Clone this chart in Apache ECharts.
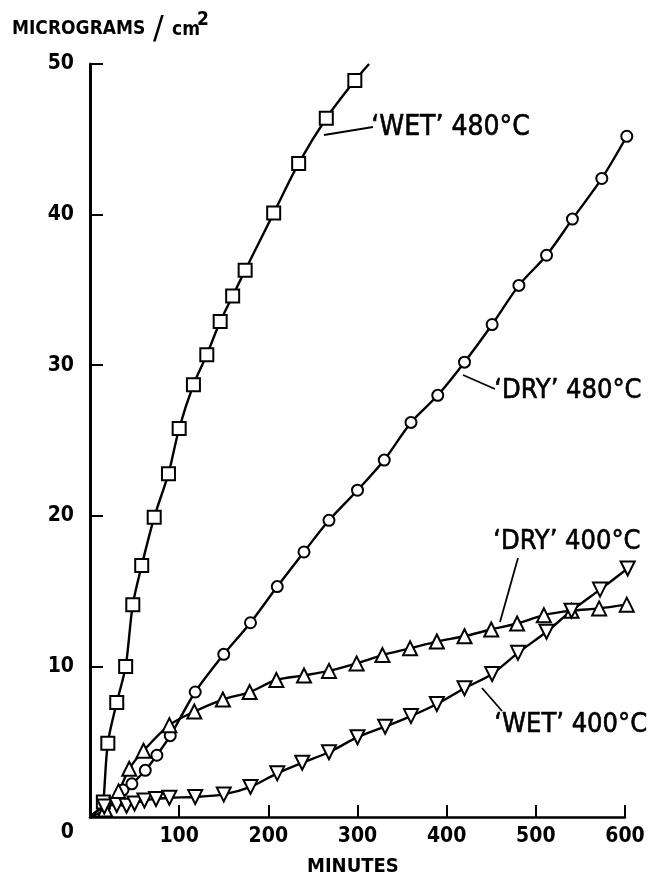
<!DOCTYPE html>
<html><head><meta charset="utf-8">
<script src="https://cdn.jsdelivr.net/npm/echarts@6/dist/echarts.min.js"></script>
<style>html,body{margin:0;padding:0;background:#fff}#c{width:652px;height:878px}</style>
</head><body><div id="c"></div>
<script>
// x = minutes, y = micrograms / cm2
const wet480 = [[15,1.0],[20,4.9],[30,7.6],[40,10.0],[48,14.1],[58,16.7],[72,19.9],[88,22.8],[100,25.8],[116,28.7],[131,30.7],[146,32.9],[160,34.6],[174,36.3],[206,40.1],[234,43.4],[265,46.4],[297,48.9]];
const wet480Ends = [[12,0],[313,50]];
const dry480 = [[37,1.8],[47,2.2],[62,3.1],[75,4.1],[90,5.4],[118,8.3],[150,10.8],[180,12.9],[210,15.3],[240,17.6],[268,19.7],[300,21.7],[330,23.7],[360,26.2],[390,28.0],[420,30.2],[451,32.7],[481,35.3],[512,37.3],[541,39.7],[574,42.4],[602,45.2]];
const dry400 = [[17,0.5],[32,1.7],[44,3.2],[60,4.4],[89,6.1],[117,7.0],[149,7.8],[179,8.3],[209,9.1],[240,9.4],[268,9.7],[299,10.2],[328,10.75],[359,11.2],[389,11.65],[420,12.0],[450,12.45],[479,12.85],[509,13.4],[540,13.7],[571,13.85],[602,14.1]];
const wet400 = [[16,0.7],[30,0.8],[41,0.75],[50,0.9],[61,1.1],[74,1.2],[89,1.28],[118,1.33],[150,1.5],[180,2.0],[210,2.9],[238,3.6],[268,4.3],[300,5.3],[331,6.0],[360,6.7],[389,7.5],[420,8.55],[451,9.5],[480,10.9],[512,12.3],[540,13.7],[572,15.1],[603,16.5]];
const origin = [0,0];
const xTickValues = [0,100,200,300,400,500,600];
const yTickValues = [0,10,20,30,40,50];
const seriesLabels = ['‘WET’ 480°C','‘DRY’ 480°C','‘DRY’ 400°C','‘WET’ 400°C'];
const yAxisTitle = ['MICROGRAMS','/','cm','2'];
const xAxisTitle = 'MINUTES';

const FONT = '"Liberation Sans Narrow","DejaVu Sans Condensed","DejaVu Sans",sans-serif';
const DJ = '"DejaVu Sans Condensed","DejaVu Sans",sans-serif';
const chart = echarts.init(document.getElementById('c'), null, {renderer:'canvas'});

function build(points, start, end){
  const d = [];
  if (start) d.push({value:start, symbol:'none'});
  points.forEach(p => d.push({value:p}));
  if (end) d.push({value:end, symbol:'none'});
  return d;
}
function lineSeries(name, data, symbol, size, rotate){
  return {
    name, type:'line', data, smooth:0.3,
    symbol, symbolSize:size, symbolRotate:rotate||0, showAllSymbol:true,
    lineStyle:{color:'#000', width:2.4},
    itemStyle:{color:'#fff', borderColor:'#000', borderWidth:2},
    emphasis:{disabled:true}, animation:false, clip:false
  };
}
function txt(x, y, s, size, weight, fam, extra){
  return {type:'text', left:x, top:y, style:Object.assign({text:s, fontSize:size, fontWeight:weight||'normal', fontFamily:fam||FONT, fill:'#000'}, extra||{})};
}
const bold = {stroke:'#000', lineWidth:0.6};

const option = {
  backgroundColor:'#fff',
  animation:false,
  grid:{left:90, right:27, top:64, bottom:61},
  xAxis:{
    type:'value', min:0, max:600, interval:100,
    axisLine:{lineStyle:{color:'#000', width:2.5}},
    axisTick:{inside:true, length:12, lineStyle:{color:'#000', width:2}},
    splitLine:{show:false},
    axisLabel:{margin:9, color:'#000', fontSize:21, fontWeight:'bold', fontFamily:FONT,
      formatter: v => (v===0 ? '' : String(xTickValues[xTickValues.indexOf(v)]))}
  },
  yAxis:{
    type:'value', min:0, max:50, interval:10,
    axisLine:{lineStyle:{color:'#000', width:3}},
    axisTick:{inside:true, length:13, lineStyle:{color:'#000', width:2}},
    splitLine:{show:false},
    axisLabel:{margin:16, color:'#000', fontSize:21, fontWeight:'bold', fontFamily:FONT,
      formatter: v => (v===0 ? '{z|0}' : String(yTickValues[yTickValues.indexOf(v)])),
      rich:{z:{fontSize:21, fontWeight:'bold', fontFamily:FONT, padding:[32,0,0,0]}}}
  },
  graphic:[
    txt(12, 20, yAxisTitle[0], 19, 'bold', DJ),
    txt(153, 14, yAxisTitle[1], 32, 'normal', '"DejaVu Sans",sans-serif'),
    txt(172, 21, yAxisTitle[2], 19, 'bold', DJ),
    txt(197, 11, yAxisTitle[3], 19, 'bold', DJ),
    txt(307, 857, xAxisTitle, 20, 'bold'),
    txt(371, 113, seriesLabels[0], 28, 'normal', FONT, bold),
    txt(494, 377, seriesLabels[1], 27, 'normal', FONT, bold),
    txt(493, 528, seriesLabels[2], 27, 'normal', FONT, bold),
    txt(494, 711, seriesLabels[3], 27, 'normal', FONT, bold),
    {type:'line', shape:{x1:324,y1:135,x2:373,y2:127}, style:{stroke:'#000', lineWidth:1.8}},
    {type:'line', shape:{x1:463,y1:375,x2:495,y2:389}, style:{stroke:'#000', lineWidth:1.8}},
    {type:'line', shape:{x1:518,y1:558,x2:500,y2:622}, style:{stroke:'#000', lineWidth:1.8}},
    {type:'line', shape:{x1:482,y1:688,x2:502,y2:711}, style:{stroke:'#000', lineWidth:1.8}}
  ],
  series:[
    lineSeries(seriesLabels[0], build(wet480, wet480Ends[0], wet480Ends[1]), 'rect', 13),
    lineSeries(seriesLabels[1], build(dry480, origin), 'circle', 11),
    lineSeries(seriesLabels[2], build(dry400, origin), 'triangle', 14),
    lineSeries(seriesLabels[3], build(wet400, origin), 'triangle', 14, 180)
  ]
};
chart.setOption(option);
</script></body></html>
